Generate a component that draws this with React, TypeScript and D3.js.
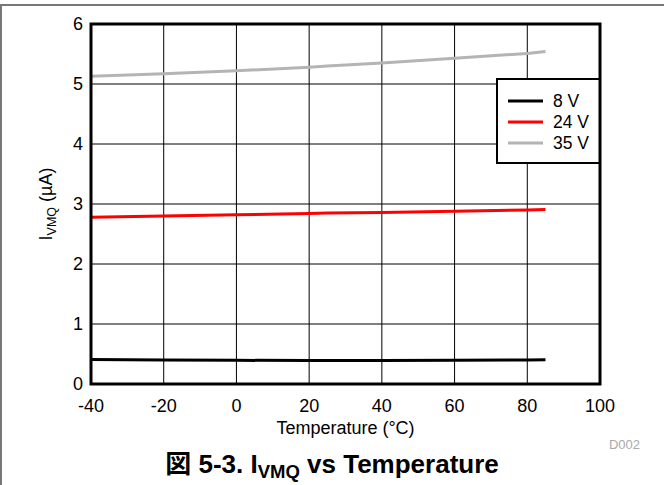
import React from "react";
import * as d3 from "d3";

// Quiescent current I_VMQ (µA) versus junction temperature (°C)
const temps = [-40, -20, 0, 20, 25, 40, 60, 80, 85];
const i8V = [0.41, 0.4, 0.395, 0.39, 0.39, 0.39, 0.395, 0.4, 0.405];
const i24V = [2.78, 2.8, 2.82, 2.84, 2.85, 2.86, 2.88, 2.9, 2.91];
const i35V = [5.13, 5.17, 5.22, 5.28, 5.3, 5.35, 5.43, 5.51, 5.54];

const seriesNames = ["8 V", "24 V", "35 V"];
const seriesColors = ["#000000", "#ff0000", "#b4b4b4"];
const xTicks = [-40, -20, 0, 20, 40, 60, 80, 100];
const yTicks = [0, 1, 2, 3, 4, 5, 6];

const W = 664;
const H = 485;
const plot = { left: 91, right: 600, top: 24, bottom: 384 };
const FONT = "'Liberation Sans', Arial, Helvetica, sans-serif";

export default function App() {
  const x = d3.scaleLinear().domain([-40, 100]).range([plot.left, plot.right]);
  const y = d3.scaleLinear().domain([0, 6]).range([plot.bottom, plot.top]);

  const series = [i8V, i24V, i35V];
  const line = d3
    .line<[number, number]>()
    .x((d) => x(d[0]))
    .y((d) => y(d[1]));

  const legend = { x0: 497, y0: 79, x1: 600, y1: 163 };

  return (
    <svg
      width={W}
      height={H}
      viewBox={`0 0 ${W} ${H}`}
      style={{ position: "absolute", left: 0, top: 0, background: "#fff" }}
      fontFamily={FONT}
    >
      {/* page frame */}
      <line x1={0} x2={W} y1={5} y2={5} stroke="#777" strokeWidth={2} />
      <line x1={1} x2={1} y1={5} y2={H} stroke="#777" strokeWidth={2} />

      {/* grid */}
      {xTicks
        .filter((t) => t > -40 && t < 100)
        .map((t) => (
          <line key={`gx${t}`} x1={x(t)} x2={x(t)} y1={plot.top} y2={plot.bottom} stroke="#000" strokeWidth={1} />
        ))}
      {yTicks
        .filter((t) => t > 0 && t < 6)
        .map((t) => (
          <line key={`gy${t}`} x1={plot.left} x2={plot.right} y1={y(t)} y2={y(t)} stroke="#000" strokeWidth={1} />
        ))}

      {/* data */}
      {series.map((vals, i) => (
        <path
          key={seriesNames[i]}
          d={line(temps.map((t, k) => [t, vals[k]] as [number, number])) || ""}
          fill="none"
          stroke={seriesColors[i]}
          strokeWidth={3}
        />
      ))}

      {/* legend */}
      <rect
        x={legend.x0}
        y={legend.y0}
        width={legend.x1 - legend.x0}
        height={legend.y1 - legend.y0}
        fill="#fff"
        stroke="#000"
        strokeWidth={2}
      />
      {seriesNames.map((n, i) => {
        const ly = 101 + i * 21;
        return (
          <g key={`lg${n}`}>
            <line x1={508} x2={543} y1={ly} y2={ly} stroke={seriesColors[i]} strokeWidth={3} />
            <text x={553} y={ly + 6} fontSize={17.5} fill="#000">
              {n}
            </text>
          </g>
        );
      })}

      {/* plot frame */}
      <rect
        x={plot.left}
        y={plot.top}
        width={plot.right - plot.left}
        height={plot.bottom - plot.top}
        fill="none"
        stroke="#000"
        strokeWidth={3}
      />

      {/* y ticks */}
      {yTicks.map((t) => (
        <text key={`yt${t}`} x={83} y={y(t) + 6} fontSize={18} textAnchor="end" fill="#000">
          {t}
        </text>
      ))}
      {/* x ticks */}
      {xTicks.map((t) => (
        <text key={`xt${t}`} x={x(t)} y={412} fontSize={18} textAnchor="middle" fill="#000">
          {t}
        </text>
      ))}

      {/* axis titles */}
      <text x={(plot.left + plot.right) / 2} y={434} fontSize={18} textAnchor="middle" fill="#000">
        Temperature (°C)
      </text>
      <text
        transform={`translate(52, ${(plot.top + plot.bottom) / 2}) rotate(-90)`}
        fontSize={18}
        textAnchor="middle"
        fill="#000"
      >
        I
        <tspan fontSize={12.5} dy={4}>
          VMQ
        </tspan>
        <tspan dy={-4}> (µA)</tspan>
      </text>

      <text x={640} y={449} fontSize={13} textAnchor="end" fill="#aaa">
        D002
      </text>

      {/* caption */}
      <text x={332} y={473} fontSize={26} fontWeight="bold" textAnchor="middle" fill="#000">
        <tspan fontFamily="'Noto Sans CJK JP', sans-serif">図</tspan> 5-3. I
        <tspan fontSize={18.5} dy={5}>
          VMQ
        </tspan>
        <tspan dy={-5}> vs Temperature</tspan>
      </text>
    </svg>
  );
}
